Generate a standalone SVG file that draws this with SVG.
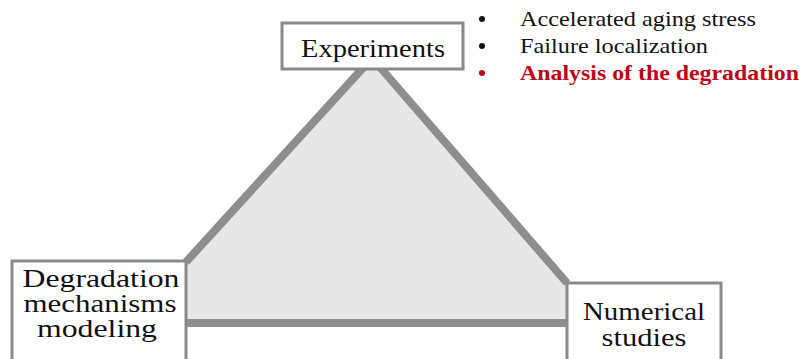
<svg xmlns="http://www.w3.org/2000/svg" width="802" height="359" viewBox="0 0 802 359">
  <style>
    .box { fill: #ffffff; stroke: #8a8a8a; stroke-width: 3; }
    .lbl { font-family: "Liberation Serif", "Times New Roman", serif; font-size: 25px; fill: #111111; text-anchor: middle; }
    .big { font-size: 26px; }
    .edge { stroke: #8e8e8e; stroke-width: 8; fill: none; stroke-linecap: butt; }
    .area { fill: #e7e7e7; stroke: none; }
    .bul { font-family: "Liberation Serif", "Times New Roman", serif; font-size: 22px; fill: #111111; }
    .red { fill: #c00018; font-weight: bold; }
    .dot { fill: #111111; }
    .dot-red { fill: #c00018; }
  </style>
  <rect width="802" height="359" fill="#ffffff"/>
  <g id="triangle-area">
    <polygon class="area" points="372,58 186,262 186,323 567,323 567,283"/>
  </g>
  <g id="connectors">
    <line class="edge" x1="372" y1="58" x2="186" y2="262"/>
    <line class="edge" x1="372" y1="58" x2="567" y2="283"/>
    <line class="edge" x1="186" y1="323" x2="567" y2="323"/>
  </g>
  <g id="experiments">
    <rect class="box" x="282" y="23" width="181" height="46"/>
    <text class="lbl big" x="373" y="57" textLength="144" lengthAdjust="spacingAndGlyphs">Experiments</text>
  </g>
  <g id="degradation-modeling">
    <rect class="box" x="12" y="261" width="174" height="110"/>
    <text class="lbl" x="101" y="287" textLength="157" lengthAdjust="spacingAndGlyphs">Degradation</text>
    <text class="lbl" x="100" y="312" textLength="153" lengthAdjust="spacingAndGlyphs">mechanisms</text>
    <text class="lbl" x="97" y="337" textLength="120" lengthAdjust="spacingAndGlyphs">modeling</text>
  </g>
  <g id="numerical-studies">
    <rect class="box" x="567" y="283" width="154" height="90"/>
    <text class="lbl" x="644" y="320" textLength="122" lengthAdjust="spacingAndGlyphs">Numerical</text>
    <text class="lbl" x="644" y="346" textLength="85" lengthAdjust="spacingAndGlyphs">studies</text>
  </g>
  <g id="experiments-notes">
    <circle class="dot" cx="482" cy="19" r="3"/>
    <circle class="dot" cx="482" cy="46" r="3"/>
    <circle class="dot-red" cx="482" cy="73" r="3"/>
    <text class="bul" x="520" y="26" textLength="236" lengthAdjust="spacingAndGlyphs">Accelerated aging stress</text>
    <text class="bul" x="520" y="53" textLength="188" lengthAdjust="spacingAndGlyphs">Failure localization</text>
    <text class="bul red" x="520" y="80" textLength="279" lengthAdjust="spacingAndGlyphs">Analysis of the degradation</text>
  </g>
</svg>
